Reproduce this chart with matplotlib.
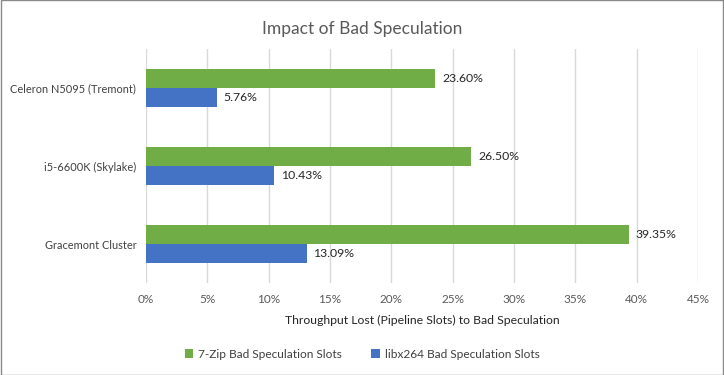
import matplotlib.pyplot as plt
import numpy as np
from matplotlib.ticker import FuncFormatter

plt.rcParams['font.family'] = ['Lato', 'DejaVu Sans']

cpus = ["Celeron N5095 (Tremont)", "i5-6600K (Skylake)", "Gracemont Cluster"]
zip7 = [23.60, 26.50, 39.35]
x264 = [5.76, 10.43, 13.09]

fig = plt.figure(figsize=(7.24, 3.75), dpi=100)
ax = fig.add_axes([146 / 724, 1 - 283 / 375, 552 / 724, 234 / 375])

y = np.arange(len(cpus))
h = 0.245
b1 = ax.barh(y - h / 2, zip7, height=h, color="#70AD47", label="7-Zip Bad Speculation Slots", zorder=3)
b2 = ax.barh(y + h / 2, x264, height=h, color="#4472C4", label="libx264 Bad Speculation Slots", zorder=3)

for bars, vals in ((b1, zip7), (b2, x264)):
    ax.bar_label(bars, labels=[f"{v:.2f}%" for v in vals], padding=5, fontsize=8.8, color="#262626")

ax.set_ylim(len(cpus) - 0.5, -0.5)
ax.set_yticks(y)
ax.set_yticklabels(cpus)
ax.set_xlim(0, 45)
ax.set_xticks(np.arange(0, 46, 5))
ax.xaxis.set_major_formatter(FuncFormatter(lambda v, p: f"{v:.0f}%"))
ax.tick_params(length=0, labelsize=8.5, labelcolor="#595959", pad=8)
ax.tick_params(axis="y", labelsize=7.9, labelcolor="#404040", pad=7)
ax.grid(axis="x", color="#D9D9D9", linewidth=1, zorder=0)
for s in ax.spines.values():
    s.set_visible(False)

ax.set_xlabel("Throughput Lost (Pipeline Slots) to Bad Speculation", fontsize=8.8, color="#262626", labelpad=7)
fig.suptitle("Impact of Bad Speculation", y=0.945, fontsize=12.5, color="#595959")

fig.legend(loc="center", bbox_to_anchor=(0.5, 1 - 354 / 375), ncol=2, frameon=False,
           fontsize=8.6, handlelength=0.7, handleheight=0.7, columnspacing=2.5, handletextpad=0.4,
           labelcolor="#404040")

fig.patches.append(plt.Rectangle((0.0007, 0.0013), 0.9986, 0.9974, transform=fig.transFigure,
                                 fill=False, edgecolor="#898989", linewidth=1))

fig.savefig("out.png", dpi=100)
